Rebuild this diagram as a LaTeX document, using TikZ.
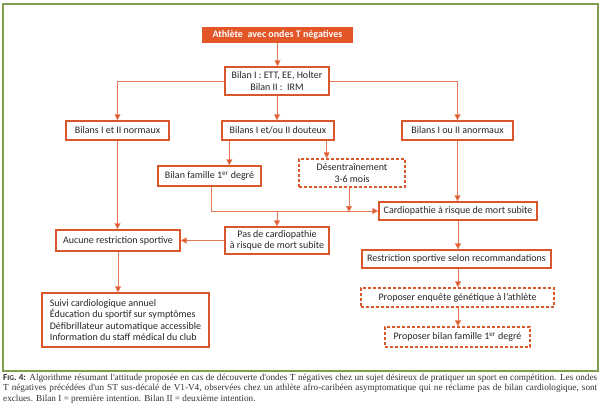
\documentclass[tikz,border=0pt]{standalone}
\usepackage{fontspec}
\setmainfont{Carlito}
\newfontfamily\capfont{Liberation Serif}
\newfontfamily\figfont{Carlito}
\usetikzlibrary{arrows.meta}
\definecolor{boxc}{RGB}{220,86,44}
\definecolor{linec}{RGB}{229,120,82}
\definecolor{titc}{RGB}{226,86,40}
\definecolor{framec}{RGB}{128,158,82}
\definecolor{capc}{RGB}{50,50,50}
\begin{document}
\begin{tikzpicture}[x=1pt,y=-1pt,
  every node/.style={font=\fontsize{10}{11.5}\selectfont, text=black!85, inner sep=0pt, align=center},
  sbox/.style={draw=boxc, line width=1.3pt, minimum height=#1, fill=white},
  sbox/.default=19pt,
  dbox/.style={sbox=#1, dashed, dash pattern=on 3pt off 2pt},
  dbox/.default=19pt,
  arr/.style={draw=linec, line width=0.8pt, -{Triangle[width=6pt,length=6pt,fill=boxc]}},
  ln/.style={draw=linec, line width=0.8pt}]
\useasboundingbox (0,0) rectangle (600,416);
\draw[framec, line width=1.2pt] (3,4) rectangle (598,371);

\node[fill=titc, minimum width=151pt, minimum height=16pt, text=white, font=\fontsize{10}{11}\selectfont\bfseries] (title) at (277.5,35) {Athlète~ avec ondes T négatives};
\node[sbox=28pt, minimum width=104pt] (bilan) at (277,81) {Bilan I : ETT, EE, Holter\\Bilan II :~ IRM};
\node[sbox, minimum width=103pt] (normaux) at (117.5,130.5) {Bilans I et II normaux};
\node[sbox, minimum width=112pt] (douteux) at (278,130.5) {Bilans I et/ou II douteux};
\node[sbox, minimum width=111pt] (anormaux) at (457.5,130.5) {Bilans I ou II anormaux};
\node[sbox=20pt, minimum width=103pt] (famille) at (209.5,176) {Bilan famille 1\textsuperscript{er} degré};
\node[dbox=28pt, minimum width=106pt] (desentr) at (352,173) {Désentraînement\\3-6 mois};
\node[sbox=18pt, minimum width=158pt] (cardio) at (458,211) {Cardiopathie à risque de mort subite};
\node[sbox=27pt, minimum width=104pt] (pas) at (277,240.5) {Pas de cardiopathie\\à risque de mort subite};
\node[sbox=21pt, minimum width=124pt] (aucune) at (118,240.5) {Aucune restriction sportive};
\node[sbox=18pt, minimum width=189pt] (restr) at (456.5,259) {Restriction sportive selon recommandations};
\node[dbox=19pt, minimum width=193pt] (enquete) at (457.5,297.5) {Proposer enquête génétique à l’athlète};
\node[dbox=20pt, minimum width=145pt] (propfam) at (457.5,337) {Proposer bilan famille 1\textsuperscript{er} degré};
\node[sbox=54pt, minimum width=167pt, align=left] (suivi) at (125.5,320) {Suivi cardiologique annuel\\Éducation du sportif sur symptômes\\Défibrillateur automatique accessible\\Information du staff médical du club};

\draw[arr] (title.south) -- (title.south |- bilan.north);
\draw[arr] (bilan.west) -| (normaux.north);
\draw[arr] (bilan.east) -| (anormaux.north);
\draw[arr] (bilan.south) -- (bilan.south |- douteux.north);
\draw[arr] ([xshift=8pt]douteux.south west) -- ([xshift=8pt]douteux.south west |- famille.north);
\draw[arr] ([xshift=-8pt]douteux.south east) -- ([xshift=-8pt]douteux.south east |- desentr.north);
\draw[arr] (anormaux.south) -- (anormaux.south |- cardio.north);
\draw[arr] ([xshift=1.5pt]famille.south) |- (cardio.west);
\coordinate (br) at (pas.north |- cardio.west);
\draw[arr] (br) -- (pas.north);
\draw[arr] ([xshift=-3pt]desentr.south) -- ([xshift=-3pt,yshift=-1pt]desentr.south |- cardio.west);
\draw[arr] (normaux.south) -- (normaux.south |- aucune.north);
\draw[arr] (pas.west) -- (aucune.east);
\draw[arr] (aucune.south) -- (aucune.south |- suivi.north);
\draw[arr] (cardio.south) -- (cardio.south |- restr.north);
\draw[arr] (cardio.south |- restr.south) -- (cardio.south |- enquete.north);
\draw[arr] (cardio.south |- enquete.south) -- (cardio.south |- propfam.north);

\node[anchor=north west, text width=594pt, align=justify, text=capc, font=\capfont\fontsize{9.2}{10.6}\selectfont] (cap) at (3,373.5)
{{\figfont\bfseries F{\fontsize{7.4}{8}\selectfont IG}. 4:} Algorithme résumant l'attitude proposée en cas de découverte d'ondes T négatives chez un sujet désireux de pratiquer un sport en compétition. Les ondes\linebreak T négatives précédées d'un ST sus-décalé de V1-V4, observées chez un athlète afro-caribéen asymptomatique qui ne réclame pas de bilan cardiologique, sont\linebreak exclues. Bilan I = première intention. Bilan II = deuxième intention.\par};
\end{tikzpicture}
\end{document}
